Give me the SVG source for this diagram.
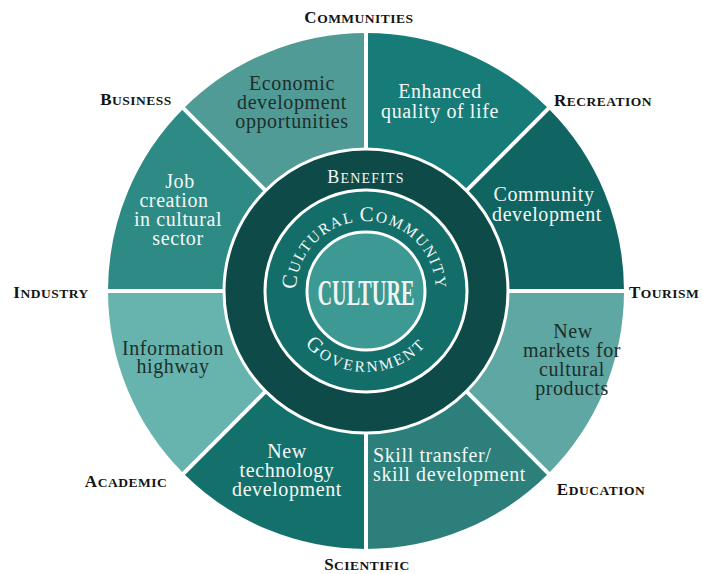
<svg xmlns="http://www.w3.org/2000/svg" width="703" height="574" viewBox="0 0 703 574">
<style>
.seg-text{font-family:"Liberation Serif","Times New Roman",serif;font-size:20px;letter-spacing:0.6px;text-anchor:middle}
.dark{fill:#1f2d2c}
.light{fill:#f3f8f6}
.outer{font-family:"Liberation Serif","Times New Roman",serif;font-weight:bold;fill:#141414;text-anchor:middle;letter-spacing:0.5px}
.big{font-size:17px}
.sm{font-size:13.5px}
.divider{stroke:#ffffff;stroke-width:4;stroke-linecap:butt}
.ringline{stroke:#ffffff;stroke-width:3}
.arc{font-family:"Liberation Serif","Times New Roman",serif;fill:#f3f8f6}
</style>
<defs>
<path id="arcTop" d="M297.06,303.16 A70,70 0 1 1 434.94,303.16" fill="none"/>
<path id="arcBot" d="M289.9,318.7 A81,81 0 0 0 442.1,318.7" fill="none"/>
</defs>
<rect width="703" height="574" fill="#ffffff"/>

<g id="seg-economic">
<path d="M366,291 L183.57,108.57 A258,258 0 0 1 366,33 Z" fill="#509b96"/>
<text class="seg-text dark"><tspan x="292" y="90">Economic</tspan><tspan x="292" y="109">development</tspan><tspan x="292" y="128">opportunities</tspan></text>
</g>
<g id="seg-enhanced">
<path d="M366,291 L366,33 A258,258 0 0 1 548.43,108.57 Z" fill="#177c78"/>
<text class="seg-text light"><tspan x="440" y="98">Enhanced</tspan><tspan x="440" y="118">quality of life</tspan></text>
</g>
<g id="seg-community">
<path d="M366,291 L548.43,108.57 A258,258 0 0 1 624,291 Z" fill="#106562"/>
<text class="seg-text light"><tspan x="544" y="201">Community</tspan><tspan x="547" y="221">development</tspan></text>
</g>
<g id="seg-markets">
<path d="M366,291 L624,291 A258,258 0 0 1 548.43,473.43 Z" fill="#5ea7a2"/>
<text class="seg-text dark"><tspan x="573" y="338">New</tspan><tspan x="572" y="357">markets for</tspan><tspan x="572" y="376">cultural</tspan><tspan x="572" y="395">products</tspan></text>
</g>
<g id="seg-skill">
<path d="M366,291 L548.43,473.43 A258,258 0 0 1 366,549 Z" fill="#2c7f7a"/>
<text class="seg-text light" style="text-anchor:start"><tspan x="373" y="462">Skill transfer/</tspan><tspan x="373" y="481">skill development</tspan></text>
</g>
<g id="seg-technology">
<path d="M366,291 L366,549 A258,258 0 0 1 183.57,473.43 Z" fill="#13706b"/>
<text class="seg-text light"><tspan x="287" y="458">New</tspan><tspan x="287" y="477">technology</tspan><tspan x="287" y="496">development</tspan></text>
</g>
<g id="seg-information">
<path d="M366,291 L183.57,473.43 A258,258 0 0 1 108,291 Z" fill="#66b4ad"/>
<text class="seg-text dark"><tspan x="173" y="355">Information</tspan><tspan x="173" y="373">highway</tspan></text>
</g>
<g id="seg-job">
<path d="M366,291 L108,291 A258,258 0 0 1 183.57,108.57 Z" fill="#2d8a85"/>
<text class="seg-text light"><tspan x="180" y="188">Job</tspan><tspan x="174" y="207">creation</tspan><tspan x="178" y="226">in cultural</tspan><tspan x="178" y="245">sector</tspan></text>
</g>

<g id="connectors">
<line class="divider" x1="366" y1="31" x2="366" y2="149"/>
<line class="divider" x1="549.8" y1="107.2" x2="466.4" y2="190.6"/>
<line class="divider" x1="626" y1="291" x2="508" y2="291"/>
<line class="divider" x1="549.8" y1="474.8" x2="466.4" y2="391.4"/>
<line class="divider" x1="366" y1="551" x2="366" y2="433"/>
<line class="divider" x1="182.2" y1="474.8" x2="265.6" y2="391.4"/>
<line class="divider" x1="106" y1="291" x2="224" y2="291"/>
<line class="divider" x1="182.2" y1="107.2" x2="265.6" y2="190.6"/>
</g>

<g id="ring-benefits">
<circle class="ringline" cx="366" cy="291" r="142" fill="#0e4b48"/>
<text style="font-family:'Liberation Serif','Times New Roman',serif;fill:#f3f8f6;text-anchor:middle;letter-spacing:1.2px" x="366" y="183"><tspan font-size="18">B</tspan><tspan font-size="14">ENEFITS</tspan></text>
</g>
<g id="ring-cultural-community">
<circle class="ringline" cx="366" cy="291" r="101" fill="#136e6a"/>
<text class="arc" letter-spacing="1.5"><textPath href="#arcTop" startOffset="50%" text-anchor="middle"><tspan font-size="21">C</tspan><tspan font-size="15.5">ULTURAL </tspan><tspan font-size="21">C</tspan><tspan font-size="15.5">OMMUNITY</tspan></textPath></text>
<text class="arc" letter-spacing="2.5"><textPath href="#arcBot" startOffset="50%" text-anchor="middle"><tspan font-size="21">G</tspan><tspan font-size="15.5">OVERNMENT</tspan></textPath></text>
</g>
<g id="node-culture">
<circle class="ringline" cx="366" cy="291" r="59" fill="#3c9993"/>
<text x="366" y="305" textLength="97" lengthAdjust="spacingAndGlyphs" style="font-family:'Liberation Serif','Times New Roman',serif;font-size:35px;font-weight:bold;fill:#eef5f2;text-anchor:middle">CULTURE</text>
</g>

<g id="label-communities"><text class="outer" x="359" y="23"><tspan class="big">C</tspan><tspan class="sm">OMMUNITIES</tspan></text></g>
<g id="label-business"><text class="outer" x="136" y="105"><tspan class="big">B</tspan><tspan class="sm">USINESS</tspan></text></g>
<g id="label-recreation"><text class="outer" x="603" y="106"><tspan class="big">R</tspan><tspan class="sm">ECREATION</tspan></text></g>
<g id="label-industry"><text class="outer" x="51" y="298"><tspan class="big">I</tspan><tspan class="sm">NDUSTRY</tspan></text></g>
<g id="label-tourism"><text class="outer" x="629" y="298" style="text-anchor:start"><tspan class="big">T</tspan><tspan class="sm">OURISM</tspan></text></g>
<g id="label-academic"><text class="outer" x="126" y="487"><tspan class="big">A</tspan><tspan class="sm">CADEMIC</tspan></text></g>
<g id="label-education"><text class="outer" x="601" y="495"><tspan class="big">E</tspan><tspan class="sm">DUCATION</tspan></text></g>
<g id="label-scientific"><text class="outer" x="367" y="570"><tspan class="big">S</tspan><tspan class="sm">CIENTIFIC</tspan></text></g>
</svg>
